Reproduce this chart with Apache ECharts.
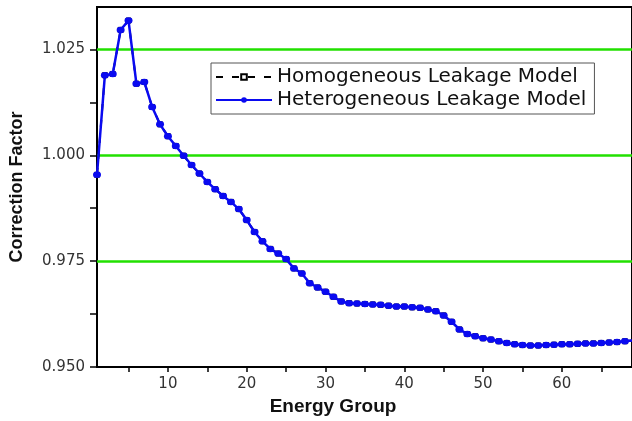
<!DOCTYPE html>
<html>
<head>
<meta charset="utf-8">
<script src="https://cdn.jsdelivr.net/npm/echarts@6/dist/echarts.min.js"></script>
<style>html,body{margin:0;padding:0;background:#fff;}#c{width:632px;height:421px;}</style>
</head>
<body>
<div id="c"></div>
<script>
const groups = [1,2,3,4,5,6,7,8,9,10,11,12,13,14,15,16,17,18,19,20,21,22,23,24,25,26,27,28,29,30,31,32,33,34,35,36,37,38,39,40,41,42,43,44,45,46,47,48,49,50,51,52,53,54,55,56,57,58,59,60,61,62,63,64,65,66,67,68,69];
const heterogeneous = [0.9954,1.0189,1.0192,1.0296,1.0318,1.0169,1.0173,1.0114,1.0073,1.0045,
  1.0022,0.9999,0.9977,0.9957,0.9937,0.9920,0.9904,0.9890,0.9873,0.9847,
  0.9819,0.9797,0.9779,0.9768,0.9755,0.9733,0.9721,0.9698,0.9688,0.9678,
  0.9666,0.9655,0.9651,0.9650,0.9649,0.9648,0.9647,0.9645,0.9643,0.9643,
  0.9641,0.9640,0.9636,0.9632,0.9622,0.9607,0.9589,0.9578,0.9573,0.9568,
  0.9565,0.9561,0.9557,0.9554,0.9552,0.9551,0.9551,0.9552,0.9553,0.9554,
  0.9554,0.9555,0.9556,0.9556,0.9557,0.9558,0.9559,0.9561,0.9563];
const homogeneous = [0.9954,1.0189,1.0192,1.0296,1.0318,1.0169,1.0173,1.0114,1.0073,1.0045,
  1.0022,0.9999,0.9977,0.9957,0.9937,0.9920,0.9904,0.9890,0.9873,0.9847,
  0.9819,0.9797,0.9779,0.9768,0.9755,0.9733,0.9721,0.9698,0.9688,0.9678,
  0.9666,0.9655,0.9651,0.9650,0.9649,0.9648,0.9647,0.9645,0.9643,0.9643,
  0.9641,0.9640,0.9636,0.9632,0.9622,0.9607,0.9589,0.9578,0.9573,0.9568,
  0.9565,0.9561,0.9557,0.9554,0.9552,0.9551,0.9551,0.9552,0.9553,0.9554,
  0.9554,0.9555,0.9556,0.9556,0.9557,0.9558,0.9559,0.9561,0.9563];
const xLabelValues = [10,20,30,40,50,60];
const xTickValues = [5,10,15,20,25,30,35,40,45,50,55,60,65];
const yLabelValues = [0.950,0.975,1.000,1.025];
const yTickValues = [0.950,0.9625,0.975,0.9875,1.000,1.0125,1.025];
const gridLineValues = [0.975,1.000,1.025];
const seriesNames = ['Homogeneous Leakage Model','Heterogeneous Leakage Model'];

const chart = echarts.init(document.getElementById('c'), null, {renderer:'canvas'});
const pair = (arr) => groups.map((g,i)=>[g,arr[i]]);
chart.setOption({
  animation:false,
  backgroundColor:'#fff',
  grid:{left:93,top:7,right:-1,bottom:53,show:true,borderColor:'#000',borderWidth:2,backgroundColor:'transparent'},
  legend:{
    orient:'vertical',left:211,top:63,
    padding:[4,8,4,4],itemGap:3,itemWidth:56,itemHeight:7,
    borderColor:'#555',borderWidth:1,
    textStyle:{fontFamily:'DejaVu Sans',fontSize:20,color:'#111'},
    data:seriesNames
  },
  xAxis:{
    type:'value',min:1,max:68.9,
    name:'Energy Group',nameLocation:'middle',nameGap:27,
    nameTextStyle:{fontFamily:'Liberation Sans',fontWeight:'bold',fontSize:19,color:'#111',padding:[0,63,0,0]},
    axisLine:{show:true,lineStyle:{color:'#000',width:2}},
    axisTick:{show:true,inside:false,length:5,lineStyle:{color:'#000',width:1.5},customValues:xTickValues},
    axisLabel:{customValues:xLabelValues,fontFamily:'DejaVu Sans',fontSize:15,color:'#333',margin:10},
    splitLine:{show:false}
  },
  yAxis:{
    type:'value',min:0.95,max:1.035,
    name:'Correction Factor',nameLocation:'middle',nameGap:71,
    nameTextStyle:{fontFamily:'Liberation Sans',fontWeight:'bold',fontSize:18,color:'#111'},
    axisLine:{show:true,lineStyle:{color:'#000',width:2}},
    axisTick:{show:true,inside:false,length:7,lineStyle:{color:'#000',width:1.5},customValues:yTickValues},
    axisLabel:{customValues:yLabelValues,fontFamily:'DejaVu Sans',fontSize:15,color:'#333',margin:12,formatter:(v)=>v.toFixed(3)},
    splitLine:{show:false}
  },
  series:[
    {
      name:seriesNames[0],type:'line',z:2,
      data:pair(homogeneous),
      symbol:'rect',symbolSize:5,showSymbol:true,
      itemStyle:{color:'#fff',borderColor:'#000',borderWidth:1},
      lineStyle:{color:'#000',width:2,type:[7,9]},
      markLine:{
        silent:true,symbol:'none',z:1,animation:false,precision:4,
        label:{show:false},
        lineStyle:{color:'#22e000',width:2.5,type:'solid'},
        data:gridLineValues.map(v=>({yAxis:v}))
      }
    },
    {
      name:seriesNames[1],type:'line',z:3,
      data:pair(heterogeneous),
      symbol:'circle',symbolSize:[8,6.5],showSymbol:true,
      itemStyle:{color:'#0a0af0'},
      lineStyle:{color:'#0a0af0',width:2.5}
    }
  ]
});
</script>
</body>
</html>
